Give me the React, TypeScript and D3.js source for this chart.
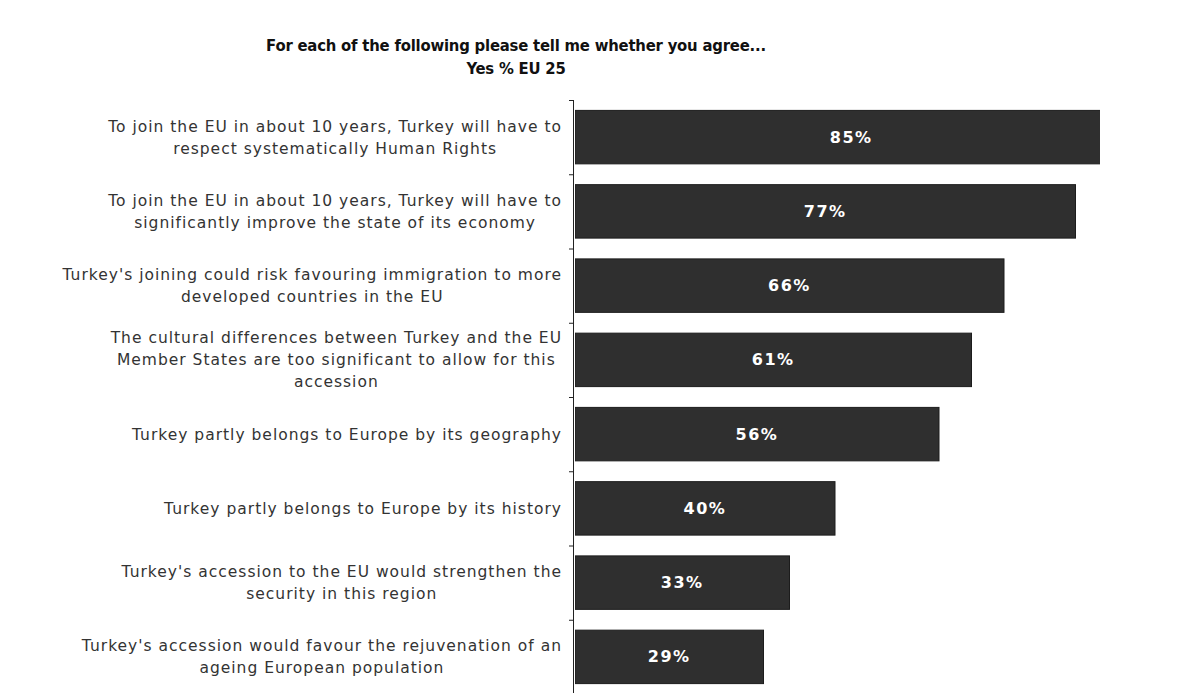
import React, { useEffect, useRef } from 'react'
import * as d3 from 'd3'

// Question labels (each entry is the wrapped lines of one category)
const categories: string[][] = [
  ['To join the EU in about 10 years, Turkey will have to', 'respect systematically Human Rights'],
  ['To join the EU in about 10 years, Turkey will have to', 'significantly improve the state of its economy'],
  ["Turkey's joining could risk favouring immigration to more", 'developed countries in the EU'],
  ['The cultural differences between Turkey and the EU', 'Member States are too significant to allow for this', 'accession'],
  ['Turkey partly belongs to Europe by its geography'],
  ['Turkey partly belongs to Europe by its history'],
  ["Turkey's accession to the EU would strengthen the", 'security in this region'],
  ["Turkey's accession would favour the rejuvenation of an", 'ageing European population'],
]
const yesValues = [85, 77, 66, 61, 56, 40, 33, 29]
const titleLines = ['For each of the following please tell me whether you agree...', 'Yes % EU 25']

const WIDTH = 1189
const HEIGHT = 693
const FONT = '"DejaVu Sans", Verdana, sans-serif'
const TITLE_FONT = '"DejaVu Sans Condensed", "DejaVu Sans", sans-serif'

export default function App() {
  const svgRef = useRef<SVGSVGElement>(null)

  useEffect(() => {
    if (!svgRef.current) return
    const root = d3.select(svgRef.current)
    root.selectAll('*').remove()

    const left = 575
    const plotRight = 1100
    const top = 100
    const bottom = 694

    const keys = categories.map((_, i) => String(i))
    const y = d3.scaleBand().domain(keys).range([top, bottom]).paddingInner(0.28).paddingOuter(0.14)
    const x = d3.scaleLinear().domain([0, 100]).range([left, left + 650])

    // clip bars at the plot area edge (the 85% bar runs past it)
    root
      .append('defs')
      .append('clipPath')
      .attr('id', 'plot-clip')
      .append('rect')
      .attr('x', left)
      .attr('y', 0)
      .attr('width', plotRight - left)
      .attr('height', HEIGHT)

    // Title
    root
      .append('g')
      .selectAll('text')
      .data(titleLines)
      .join('text')
      .attr('x', 516)
      .attr('y', (_, i) => 51 + i * 23)
      .attr('text-anchor', 'middle')
      .attr('font-family', TITLE_FONT)
      .attr('font-stretch', 'condensed')
      .attr('font-weight', 'bold')
      .attr('font-size', 16.5)
      .attr('letter-spacing', -0.2)
      .attr('fill', '#111')
      .text((d) => d)

    // Bars
    root
      .append('g')
      .attr('clip-path', 'url(#plot-clip)')
      .selectAll('rect')
      .data(yesValues)
      .join('rect')
      .attr('x', x(0))
      .attr('y', (_, i) => y(String(i))!)
      .attr('width', (d) => x(d) - x(0))
      .attr('height', y.bandwidth())
      .attr('fill', '#2f2f2f')
      .attr('stroke', '#1c1c1c')
      .attr('stroke-width', 1)

    // Value labels
    root
      .append('g')
      .selectAll('text')
      .data(yesValues)
      .join('text')
      .attr('x', (d) => (x(0) + x(d)) / 2)
      .attr('y', (_, i) => y(String(i))! + y.bandwidth() / 2)
      .attr('dy', '0.35em')
      .attr('text-anchor', 'middle')
      .attr('font-family', FONT)
      .attr('font-weight', 'bold')
      .attr('font-size', 16)
      .attr('letter-spacing', 1.5)
      .attr('fill', '#fff')
      .text((d) => `${d}%`)

    // Axis line and ticks at band boundaries
    const axis = root.append('g').attr('stroke', '#222').attr('stroke-width', 1)
    axis
      .append('line')
      .attr('x1', left - 1.5)
      .attr('x2', left - 1.5)
      .attr('y1', top)
      .attr('y2', HEIGHT)
    const bounds = keys.map((k) => y(k)! - (y.step() - y.bandwidth()) / 2)
    bounds.push(bounds[bounds.length - 1] + y.step())
    axis
      .selectAll('.tick')
      .data(bounds)
      .join('line')
      .attr('class', 'tick')
      .attr('x1', left - 6)
      .attr('x2', left - 1.5)
      .attr('y1', (d) => d + 0.5)
      .attr('y2', (d) => d + 0.5)

    // Category labels: lines centred, block right-aligned to the axis
    const lineH = 22
    const labels = root.append('g')
    categories.forEach((lines, i) => {
      const g = labels.append('g')
      const cy = y(String(i))! + y.bandwidth() / 2
      const texts = g
        .selectAll('text')
        .data(lines)
        .join('text')
        .attr('y', (_, j) => cy + (j - (lines.length - 1) / 2) * lineH)
        .attr('dy', '0.35em')
        .attr('text-anchor', 'middle')
        .attr('font-family', FONT)
        .attr('font-size', 15.5)
        .attr('letter-spacing', 1)
        .attr('fill', '#333')
        .text((d) => d)
      let maxW = 0
      texts.each(function () {
        maxW = Math.max(maxW, (this as SVGTextElement).getComputedTextLength())
      })
      texts.attr('x', 562 - maxW / 2)
    })
  }, [])

  return (
    <div style={{ position: 'absolute', left: 0, top: 0 }}>
      <svg ref={svgRef} width={WIDTH} height={HEIGHT} style={{ display: 'block', background: '#fff' }} />
    </div>
  )
}
